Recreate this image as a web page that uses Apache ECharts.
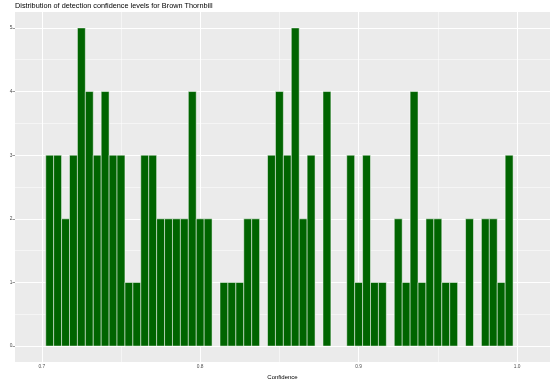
<!DOCTYPE html>
<html>
<head>
<meta charset="utf-8">
<script src="https://cdn.jsdelivr.net/npm/echarts@6/dist/echarts.min.js"></script>
<style>html,body{margin:0;padding:0;background:#fff}#c{width:553px;height:379px}</style>
</head>
<body>
<div id="c"></div>
<script>
const titleText = 'Distribution of detection confidence levels for Brown Thornbill';
const binWidth = 0.005;
const binStarts = [
  0.7025, 0.7075, 0.7125, 0.7175, 0.7225, 0.7275, 0.7325, 0.7375, 0.7425, 0.7475,
  0.7525, 0.7575, 0.7625, 0.7675, 0.7725, 0.7775, 0.7825, 0.7875, 0.7925, 0.7975,
  0.8025, 0.8075, 0.8125, 0.8175, 0.8225, 0.8275, 0.8325, 0.8375, 0.8425, 0.8475,
  0.8525, 0.8575, 0.8625, 0.8675, 0.8725, 0.8775, 0.8825, 0.8875, 0.8925, 0.8975,
  0.9025, 0.9075, 0.9125, 0.9175, 0.9225, 0.9275, 0.9325, 0.9375, 0.9425, 0.9475,
  0.9525, 0.9575, 0.9625, 0.9675, 0.9725, 0.9775, 0.9825, 0.9875, 0.9925
];
const counts = [
  3, 3, 2, 3, 5, 4, 3, 4, 3, 3,
  1, 1, 3, 3, 2, 2, 2, 2, 4, 2,
  2, 0, 1, 1, 1, 2, 2, 0, 3, 4,
  3, 5, 2, 3, 0, 4, 0, 0, 3, 1,
  3, 1, 1, 0, 2, 1, 4, 1, 2, 2,
  1, 1, 0, 2, 0, 2, 2, 1, 3
];
const xTicks = [0.7, 0.8, 0.9, 1.0];
const xTickLabels = ['0.7', '0.8', '0.9', '1.0'];
const xMinor = [0.75, 0.85, 0.95];
const yTicks = [0, 1, 2, 3, 4, 5];
const yMinor = [0.5, 1.5, 2.5, 3.5, 4.5];

const barData = binStarts.map((s, i) => [s, s + binWidth, counts[i]]).filter(d => d[2] > 0);

const gridLines = [];
xTicks.forEach(v => gridLines.push({xAxis: v, lineStyle: {width: 1.07}}));
xMinor.forEach(v => gridLines.push({xAxis: v, lineStyle: {width: 0.53}}));
yTicks.forEach(v => gridLines.push({yAxis: v, lineStyle: {width: 1.07}}));
yMinor.forEach(v => gridLines.push({yAxis: v, lineStyle: {width: 0.53}}));

const font = 'Liberation Sans, Arial, Helvetica, sans-serif';
const chart = echarts.init(document.getElementById('c'), null, {renderer: 'canvas'});
chart.setOption({
  animation: false,
  title: {
    text: titleText, left: 15, top: 2, padding: 0,
    textStyle: {fontFamily: font, fontSize: 7.3, fontWeight: 'normal', color: '#000'}
  },
  grid: {left: 15, right: 3, top: 12, bottom: 17, show: true, backgroundColor: '#EBEBEB', borderWidth: 0,
    containLabel: false, outerBoundsMode: 'none'},
  xAxis: {
    type: 'value', min: 0.6831, max: 1.0208,
    name: 'Confidence', nameLocation: 'middle', nameGap: 11,
    nameTextStyle: {fontFamily: font, fontSize: 6, color: '#000'},
    axisLine: {show: false},
    axisTick: {show: true, length: 2.5, lineStyle: {color: '#333', width: 0.5}, customValues: xTicks},
    axisLabel: {show: true, fontFamily: font, fontSize: 4.8, color: '#4D4D4D', margin: 2.5, customValues: xTicks,
      formatter: v => { const i = xTicks.findIndex(t => Math.abs(t - v) < 1e-9); return i >= 0 ? xTickLabels[i] : ''; }},
    splitLine: {show: false}
  },
  yAxis: {
    type: 'value', min: -0.25, max: 5.25,
    name: 'Detections', nameLocation: 'middle', nameGap: 9,
    nameTextStyle: {fontFamily: font, fontSize: 6, color: '#000'},
    axisLine: {show: false},
    axisTick: {show: true, length: 2.5, lineStyle: {color: '#333', width: 0.5}, customValues: yTicks},
    axisLabel: {show: true, fontFamily: font, fontSize: 4.8, color: '#4D4D4D', margin: 2.5, customValues: yTicks},
    splitLine: {show: false}
  },
  series: [{
    type: 'custom',
    z: 2,
    data: barData,
    renderItem: function (params, api) {
      const p0 = api.coord([api.value(0), 0]);
      const p1 = api.coord([api.value(1), api.value(2)]);
      return {
        type: 'rect',
        shape: {x: p0[0], y: p1[1], width: p1[0] - p0[0], height: p0[1] - p1[1]},
        style: {fill: '#006400', stroke: '#FFFFFF', lineWidth: 0.5}
      };
    },
    markLine: {
      z: 1, silent: true, symbol: 'none', animation: false,
      label: {show: false},
      lineStyle: {color: '#FFFFFF', type: 'solid', width: 1},
      data: gridLines
    }
  }]
});
</script>
</body>
</html>
